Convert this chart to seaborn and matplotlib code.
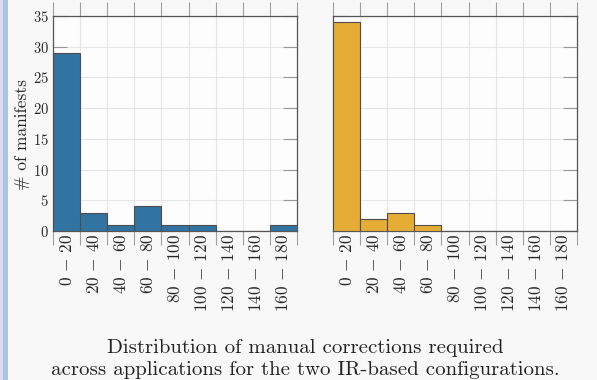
import numpy as np
import pandas as pd
import matplotlib
matplotlib.use('Agg')
import matplotlib.pyplot as plt
from matplotlib.patches import Rectangle
from matplotlib.ticker import FixedLocator
import seaborn as sns

# histogram data (manual corrections per manifest)
bins = ['0 - 20', '20 - 40', '40 - 60', '60 - 80', '80 - 100',
        '100 - 120', '120 - 140', '140 - 160', '160 - 180']
counts_left = [29, 3, 1, 4, 1, 1, 0, 0, 1]
counts_right = [34, 2, 3, 1, 0, 0, 0, 0, 0]
yticks = [0, 5, 10, 15, 20, 25, 30, 35]

caption = ('Distribution of manual corrections required\n'
           'across applications for the two IR-based configurations.')

sns.set_style('white')
plt.rcParams['font.family'] = ['cmr10', 'DejaVu Serif']
plt.rcParams['mathtext.fontset'] = 'cm'
plt.rcParams['axes.formatter.use_mathtext'] = True

fig = plt.figure(figsize=(5.97, 3.8), dpi=100)
fig.patch.set_facecolor('#f8f8f8')

# side bar on the left of the page
fig.patches.append(Rectangle((0, 0), 3 / 597, 1, transform=fig.transFigure,
                             facecolor='#d9dcea', edgecolor='none'))
fig.patches.append(Rectangle((3 / 597, 0), 5 / 597, 1, transform=fig.transFigure,
                             facecolor='#a9c4e4', edgecolor='none'))

ax1 = fig.add_axes([53 / 597, 1 - 231 / 380, 244 / 597, 215 / 380])
ax2 = fig.add_axes([333 / 597, 1 - 231 / 380, 244 / 597, 215 / 380])

panels = [(ax1, counts_left, '#3274a1'), (ax2, counts_right, '#e5ad36')]

for ax, counts, col in panels:
    df = pd.DataFrame({'bin': bins, 'count': counts})
    sns.barplot(data=df, x='bin', y='count', ax=ax, width=1.0, color=col,
                saturation=1, edgecolor='#4d4d4d', linewidth=0.8, zorder=3)
    ax.set_facecolor('#fdfdfd')
    ax.set_xlim(-0.5, len(bins) - 0.5)
    ax.set_ylim(0, 35)
    ax.set_xlabel('')
    ax.set_ylabel('')

    # ticks at bin edges, labels at bin centres
    edges = np.arange(len(bins) + 1) - 0.5
    ax.xaxis.set_major_locator(FixedLocator(edges))
    ax.xaxis.set_minor_locator(FixedLocator(np.arange(len(bins))))
    ax.set_xticklabels([''] * len(edges))
    ax.set_xticklabels(['$' + b.replace(' - ', r'\,-\,') + '$' for b in bins],
                       minor=True, rotation=90, fontsize=12.5)
    ax.tick_params(axis='x', which='minor', length=0, pad=2)
    ax.tick_params(axis='x', which='major', direction='out', length=10,
                   top=True, bottom=True, color='#a0a0a0', width=0.8)
    ax.set_yticks(yticks)
    ax.tick_params(axis='y', direction='in', length=10, left=True, right=True,
                   color='#999999', width=0.8, labelsize=10.5, pad=3)
    ax.grid(True, which='major', color='#e6e6e6', linewidth=0.8, zorder=0)
    ax.set_axisbelow(True)
    for s in ax.spines.values():
        s.set_color('#555555')
        s.set_linewidth(0.9)
        s.set_visible(True)

ax2.tick_params(axis='y', labelleft=False)
fig.text(22 / 597, 1 - 135 / 380, '# of manifests', rotation=90,
         ha='center', va='center', fontsize=12.5)

fig.text(305 / 597, 1 - 359 / 380, caption, ha='center', va='center',
         fontsize=15, linespacing=1.25, color='#222222')

fig.savefig('out.png', dpi=100, facecolor=fig.get_facecolor())
